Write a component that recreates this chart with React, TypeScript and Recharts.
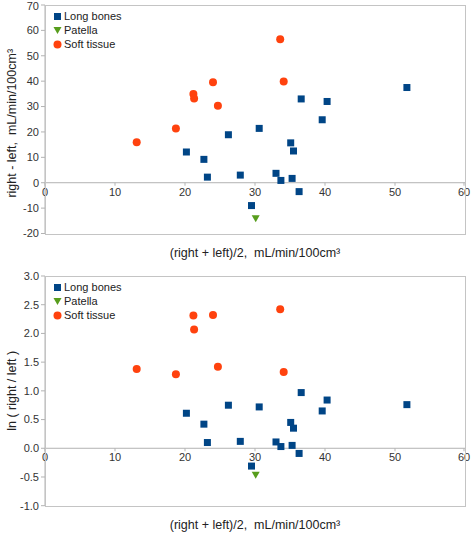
import { ScatterChart, Scatter, XAxis, YAxis, CartesianGrid } from 'recharts';

const BLUE = '#004586';
const GREEN = '#579d1c';
const ORANGE = '#ff420e';
const FONT = '"Liberation Sans", Arial, sans-serif';
const FRAME = '#c4c4c4';

// mean flow, (right + left)/2
const longX = [20.2, 22.7, 23.2, 26.2, 27.9, 29.5, 30.6, 33.0, 33.7, 35.1, 35.3, 35.5, 36.3, 36.6, 39.6, 40.3, 51.7];
const longDiff = [12.1, 9.2, 2.2, 18.9, 3.0, -9.0, 21.4, 3.7, 0.9, 15.7, 1.7, 12.5, -3.5, 33.0, 24.8, 32.0, 37.5];
const longLn = [0.61, 0.42, 0.1, 0.75, 0.12, -0.31, 0.72, 0.11, 0.03, 0.45, 0.05, 0.35, -0.09, 0.97, 0.65, 0.84, 0.76];

const patellaX = [30.1];
const patellaDiff = [-14.2];
const patellaLn = [-0.47];

const softX = [13.1, 18.7, 21.2, 21.3, 24.0, 24.7, 33.6, 34.1];
const softDiff = [15.9, 21.4, 34.9, 33.2, 39.6, 30.3, 56.5, 39.9];
const softLn = [1.38, 1.29, 2.31, 2.07, 2.32, 1.42, 2.42, 1.33];

const xTicks = [0, 10, 20, 30, 40, 50, 60];
const diffTicks = [-20, -10, 0, 10, 20, 30, 40, 50, 60, 70];
const lnTicks = [-1, -0.5, 0, 0.5, 1, 1.5, 2, 2.5, 3];

const xTitle = '(right + left)/2,\u00a0 mL/min/100cm³';

const zip = (xs: number[], ys: number[]) => xs.map((x, i) => ({ x, y: ys[i] }));

const Square = (p: any) => <rect x={p.cx - 3.5} y={p.cy - 3.5} width={7} height={7} fill={BLUE} />;
const Dot = (p: any) => <circle cx={p.cx} cy={p.cy} r={4} fill={ORANGE} />;
const TriDown = (p: any) => (
    <polygon points={`${p.cx - 4},${p.cy - 3.5} ${p.cx + 4},${p.cy - 3.5} ${p.cx},${p.cy + 3.5}`} fill={GREEN} />
);

const legendItems = [
    { name: 'Long bones', shape: 'square', color: BLUE },
    { name: 'Patella', shape: 'tri', color: GREEN },
    { name: 'Soft tissue', shape: 'circle', color: ORANGE },
];

function LegendBox({ top }: { top: number }) {
    return (
        <div style={{ position: 'absolute', left: 53, top, fontFamily: FONT, fontSize: 11, color: '#222' }}>
            {legendItems.map((it) => (
                <div key={it.name} style={{ display: 'flex', alignItems: 'center', height: 14 }}>
                    <svg width={9} height={9} style={{ marginRight: 2 }}>
                        {it.shape === 'square' && <rect x={1} y={1} width={7} height={7} fill={it.color} />}
                        {it.shape === 'circle' && <circle cx={4.5} cy={4.5} r={4} fill={it.color} />}
                        {it.shape === 'tri' && <polygon points="0.5,1 8.5,1 4.5,8" fill={it.color} />}
                    </svg>
                    <span>{it.name}</span>
                </div>
            ))}
        </div>
    );
}

interface PanelProps {
    height: number;
    marginTop: number;
    xAxisH: number;
    yDomain: [number, number];
    yTicks: number[];
    yTitle: string;
    yTitleShift: number;
    fmt: (v: number) => string;
    long: { x: number; y: number }[];
    patella: { x: number; y: number }[];
    soft: { x: number; y: number }[];
}

function Panel({ height, marginTop, xAxisH, yDomain, yTicks, yTitle, yTitleShift, fmt, long, patella, soft }: PanelProps) {
    const plotH = height - marginTop - xAxisH;
    const zeroShift = (plotH * (0 - yDomain[0])) / (yDomain[1] - yDomain[0]);

    const XTick = (props: any) => {
        const { x, y, payload } = props;
        const zy = y - zeroShift;
        return (
            <g>
                <line x1={x} x2={x} y1={zy} y2={zy + 3} stroke="#b3b3b3" />
                <text x={x} y={zy + 5} dy="0.71em" textAnchor="middle" fill="#333" fontSize={11} fontFamily={FONT}>
                    {payload.value}
                </text>
            </g>
        );
    };

    return (
        <div style={{ position: 'relative', width: 472, height }}>
            <ScatterChart width={472} height={height} margin={{ top: marginTop, right: 7, bottom: 0, left: 0 }}>
                <CartesianGrid stroke="#b3b3b3" horizontalValues={[0]} vertical={false} />
                <XAxis
                    type="number"
                    dataKey="x"
                    domain={[0, 60]}
                    ticks={xTicks}
                    height={xAxisH}
                    axisLine={false}
                    tickLine={false}
                    tickSize={0}
                    tickMargin={0}
                    tick={XTick}
                    label={{
                        content: (p: any) => {
                            const vb = p.viewBox;
                            return (
                                <text x={vb.x + vb.width / 2} y={vb.y + 19.5} textAnchor="middle" dominantBaseline="central" fill="#222" fontSize={12.5} fontFamily={FONT}>
                                    {xTitle}
                                </text>
                            );
                        },
                    }}
                />
                <YAxis
                    type="number"
                    dataKey="y"
                    domain={yDomain}
                    ticks={yTicks}
                    width={45}
                    tickSize={4}
                    tickMargin={2}
                    tickFormatter={fmt}
                    axisLine={{ stroke: '#b3b3b3' }}
                    tickLine={{ stroke: '#b3b3b3' }}
                    tick={{ fill: '#333', fontSize: 11, fontFamily: FONT }}
                    label={{
                        content: (p: any) => {
                            const vb = p.viewBox;
                            const cx = 12;
                            const cy = vb.y + vb.height / 2 + yTitleShift;
                            return (
                                <text x={cx} y={cy} transform={`rotate(-90 ${cx} ${cy})`} textAnchor="middle" dominantBaseline="central" fill="#222" fontSize={12.5} fontFamily={FONT}>
                                    {yTitle}
                                </text>
                            );
                        },
                    }}
                />
                <Scatter name="Long bones" data={long} fill={BLUE} shape={Square} isAnimationActive={false} />
                <Scatter name="Patella" data={patella} fill={GREEN} shape={TriDown} isAnimationActive={false} />
                <Scatter name="Soft tissue" data={soft} fill={ORANGE} shape={Dot} isAnimationActive={false} />
            </ScatterChart>
            {/* plot frame */}
            <div
                style={{
                    position: 'absolute',
                    left: 45,
                    top: marginTop,
                    width: 421,
                    height: plotH + 1,
                    border: `1px solid ${FRAME}`,
                    boxSizing: 'border-box',
                    pointerEvents: 'none',
                }}
            />
            <LegendBox top={marginTop + 4} />
        </div>
    );
}

export default function App() {
    return (
        <div style={{ position: 'absolute', left: 0, top: 0, width: 472, height: 533, background: '#fff' }}>
            <Panel
                height={262}
                marginTop={5}
                xAxisH={28.5}
                yDomain={[-20, 70]}
                yTicks={diffTicks}
                yTitle={'right - left,\u00a0 mL/min/100cm³'}
                yTitleShift={4}
                fmt={(v) => String(v)}
                long={zip(longX, longDiff)}
                patella={zip(patellaX, patellaDiff)}
                soft={zip(softX, softDiff)}
            />
            <Panel
                height={271}
                marginTop={14}
                xAxisH={27.3}
                yDomain={[-1, 3]}
                yTicks={lnTicks}
                yTitle="ln ( right / left )"
                yTitleShift={0}
                fmt={(v) => v.toFixed(1)}
                long={zip(longX, longLn)}
                patella={zip(patellaX, patellaLn)}
                soft={zip(softX, softLn)}
            />
        </div>
    );
}
